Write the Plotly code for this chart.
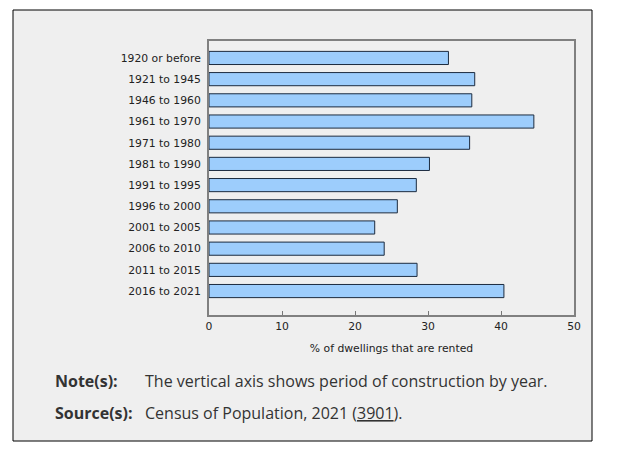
import plotly.graph_objects as go

# period of construction (top to bottom)
periods = [
    "1920 or before", "1921 to 1945", "1946 to 1960", "1961 to 1970",
    "1971 to 1980", "1981 to 1990", "1991 to 1995", "1996 to 2000",
    "2001 to 2005", "2006 to 2010", "2011 to 2015", "2016 to 2021",
]
# % of dwellings that are rented
rented_pct = [32.8, 36.4, 36.0, 44.5, 35.7, 30.2, 28.4, 25.8, 22.7, 24.0, 28.5, 40.4]

x_ticks = [0, 10, 20, 30, 40, 50]

W, H = 629, 460
OFF = 8  # page body margin
L, R, T, B = 209 - OFF, 574 - OFF, 41 - OFF, 315 - OFF  # plot area in pixels


def px(x):
    return (x - OFF - L) / (R - L)


def py(y):
    return (B - (y - OFF)) / (B - T)


trace = go.Bar(
    x=rented_pct,
    y=periods,
    orientation="h",
    marker=dict(color="#9dcdfc", line=dict(color="#1c2b3f", width=1)),
    hoverinfo="x+y",
)

note_font = dict(family="Open Sans", size=16, color="#333333")

layout = go.Layout(
    width=W,
    height=H,
    margin=dict(l=L, r=W - R, t=T, b=H - B),
    paper_bgcolor="white",
    plot_bgcolor="white",
    showlegend=False,
    bargap=0.38,
    font=dict(family="DejaVu Sans", size=10.8, color="#222222"),
    xaxis=dict(
        range=[0, 50],
        tickvals=x_ticks,
        ticks="inside",
        ticklen=4,
        tickcolor="#777777",
        showgrid=False,
        zeroline=False,
        showline=True,
        mirror=True,
        linecolor="#808080",
        linewidth=2,
        title=dict(text="% of dwellings that are rented", standoff=12,
                   font=dict(size=10.8)),
    ),
    yaxis=dict(
        range=[12.13, -0.8],
        showgrid=False,
        zeroline=False,
        showline=True,
        mirror=True,
        linecolor="#808080",
        linewidth=2,
        ticks="",
        ticklabelstandoff=4,
    ),
    shapes=[
        dict(type="rect", xref="paper", yref="paper",
             x0=px(13), x1=px(592), y0=py(441), y1=py(10),
             fillcolor="#efefef", line=dict(color="black", width=1),
             layer="below"),
    ],
    annotations=[
        dict(xref="paper", yref="paper", x=px(53), y=py(381),
             xanchor="left", yanchor="middle", showarrow=False,
             text="<b>Note(s):</b>", font=note_font),
        dict(xref="paper", yref="paper", x=px(143), y=py(381),
             xanchor="left", yanchor="middle", showarrow=False,
             text="The vertical axis shows period of construction by year.",
             font=note_font),
        dict(xref="paper", yref="paper", x=px(53), y=py(413),
             xanchor="left", yanchor="middle", showarrow=False,
             text="<b>Source(s):</b>", font=note_font),
        dict(xref="paper", yref="paper", x=px(143), y=py(413),
             xanchor="left", yanchor="middle", showarrow=False,
             text="Census of Population, 2021 (<u>3901</u>).",
             font=note_font),
    ],
)

fig = go.Figure(data=[trace], layout=layout)
fig.write_html("out.html")
